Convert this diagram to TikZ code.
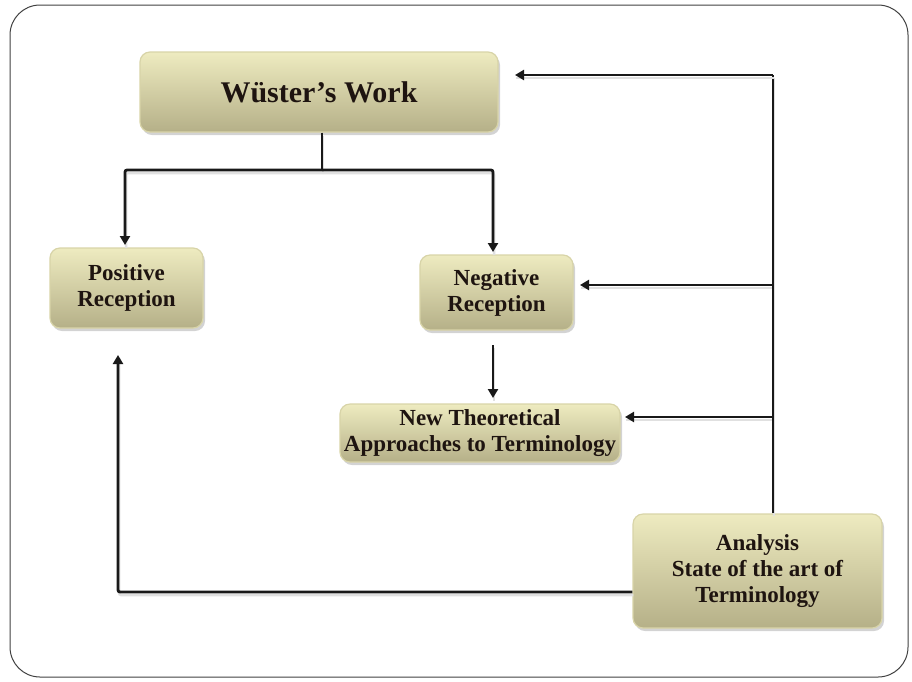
\documentclass[tikz,border=0pt]{standalone}
\usepackage{fontspec}
\setmainfont{Liberation Serif}
\usetikzlibrary{arrows.meta,shadows}
\definecolor{boxtop}{HTML}{EEEBC0}
\definecolor{boxbot}{HTML}{B5B088}
\definecolor{boxedge}{HTML}{D8D4A8}
\definecolor{txt}{HTML}{1E1410}
\tikzset{
  px/.style={x=1pt,y=-1pt},
  card/.style={draw=boxedge,line width=1.2pt,rounded corners=10pt,top color=boxtop,bottom color=boxbot,
    drop shadow={shadow xshift=2pt,shadow yshift=-3pt,opacity=0.35},
    align=center,text=txt,font=\bfseries\fontsize{23}{26}\selectfont},
  conn/.style={line width=2.8pt,draw=black!90,rounded corners=2pt,
    preaction={draw=black!12,line width=2.5pt,transform canvas={yshift=-3pt,xshift=1pt},-}},
  arr/.style={conn,-{Triangle[length=9pt,width=10pt]}},
}
\begin{document}
\begin{tikzpicture}[px]
\useasboundingbox (0,0) rectangle (912,681);
\draw[line width=1pt,black!75,rounded corners=30pt] (10,5) rectangle (908,677);
\node[card,minimum width=358pt,minimum height=80pt,font=\bfseries\fontsize{30}{34}\selectfont] (w) at (319,92) {Wüster’s Work};
\node[card,minimum width=153pt,minimum height=80pt] (p) at (126.5,288) {Positive\\Reception};
\node[card,minimum width=153pt,minimum height=75pt] (n) at (496.5,292.5) {Negative\\Reception};
\node[card,minimum width=280pt,minimum height=58pt,inner sep=1pt] (t) at (480,433) {New Theoretical\\Approaches to Terminology};
\node[card,minimum width=249pt,minimum height=114pt] (a) at (757.5,571) {Analysis\\State of the art of\\Terminology};
\coordinate (j) at (322,170);
\coordinate (r) at (773,75);
\coordinate (r1) at (773,285);
\coordinate (r2) at (773,417);
\draw[arr] (r1) -- (580,285);
\draw[arr] (r2) -- (625,417);
\draw[conn] (a.north -| r) -- (r);
\draw[arr] (r) -- (515,75);
\draw[conn] (w.south -| j) -- (j);
\draw[arr] (j) -| (125,245);
\draw[arr] (j) -| (493,252);
\draw[arr] (493,345) -- (493,398);
\draw[arr] (a.west |- 592,592) -| (118,355);
\end{tikzpicture}
\end{document}
